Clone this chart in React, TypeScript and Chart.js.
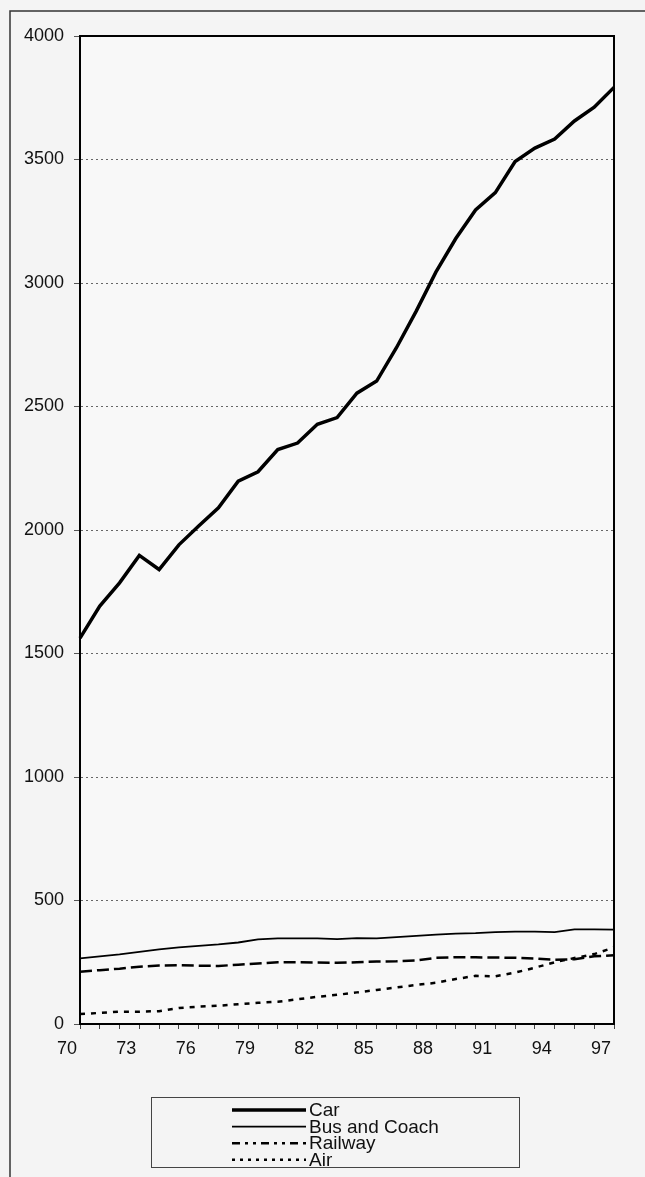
import React, { useEffect, useRef } from "react";
import { Chart, registerables } from "chart.js";

Chart.register(...registerables);

const years = ["70","71","72","73","74","75","76","77","78","79","80","81","82","83","84","85","86","87","88","89","90","91","92","93","94","95","96","97"];
const carValues = [1562,1692,1786,1897,1840,1940,2016,2090,2198,2236,2326,2352,2428,2455,2554,2603,2738,2886,3045,3180,3296,3366,3492,3546,3583,3656,3712,3792];
const busValues = [266,274,282,292,302,310,316,322,330,343,347,347,347,344,348,347,352,357,362,366,368,372,374,374,372,383,383,382];
const railValues = [212,218,224,232,237,238,236,235,240,245,250,250,249,248,250,253,254,257,268,270,270,269,268,265,260,262,274,278];
const airValues = [40,45,50,50,52,65,70,74,80,86,90,100,110,118,128,138,148,158,167,182,195,193,208,228,250,267,283,310];
const seriesNames = ["Car", "Bus and Coach", "Railway", "Air"];
const yTicks = [0, 500, 1000, 1500, 2000, 2500, 3000, 3500, 4000];

const FONT = '"Liberation Sans", Arial, sans-serif';

const legendDash: number[][] = [[], [], [8, 5, 3, 5, 3, 5], [3, 5]];

const framePlugin = {
  id: "frames",
  beforeDraw(chart: any) {
    const ctx = chart.ctx;
    const { width, height } = chart;
    ctx.save();
    ctx.fillStyle = "#f4f4f4";
    ctx.fillRect(0, 0, width, height);
    const a = chart.chartArea;
    ctx.fillStyle = "#f8f8f8";
    ctx.fillRect(a.left, a.top, a.right - a.left, a.bottom - a.top);
    ctx.strokeStyle = "#333";
    ctx.lineWidth = 1.5;
    ctx.beginPath();
    ctx.moveTo(10, height);
    ctx.lineTo(10, 11);
    ctx.lineTo(width, 11);
    ctx.stroke();
    ctx.restore();
  },
  afterDraw(chart: any) {
    const ctx = chart.ctx;
    const a = chart.chartArea;
    ctx.save();
    ctx.strokeStyle = "#000";
    ctx.lineWidth = 2;
    ctx.strokeRect(a.left, a.top, a.right - a.left, a.bottom - a.top);

    // legend box
    ctx.lineWidth = 1;
    ctx.strokeStyle = "#444";
    ctx.strokeRect(151.5, 1097.5, 368, 70);
    const ds = chart.data.datasets;
    ctx.font = "19px " + FONT;
    ctx.textBaseline = "middle";
    ctx.textAlign = "left";
    ctx.fillStyle = "#111";
    ds.forEach((d: any, i: number) => {
      const y = 1110 + i * 16.6;
      ctx.beginPath();
      ctx.setLineDash(legendDash[i]);
      ctx.lineWidth = d.borderWidth;
      ctx.strokeStyle = d.borderColor;
      ctx.moveTo(232, y);
      ctx.lineTo(306, y);
      ctx.stroke();
      ctx.setLineDash([]);
      ctx.fillText(d.label, 309, y + 1);
    });
    ctx.restore();
  },
};

export default function App() {
  const ref = useRef<HTMLCanvasElement | null>(null);
  useEffect(() => {
    document.body.style.margin = "0";
    const canvas = ref.current!;
    const chart = new Chart(canvas, {
      type: "line",
      data: {
        labels: years,
        datasets: [
          { label: seriesNames[0], data: carValues, borderColor: "#000", borderWidth: 3.5, pointRadius: 0, fill: false },
          { label: seriesNames[1], data: busValues, borderColor: "#000", borderWidth: 1.8, pointRadius: 0, fill: false },
          { label: seriesNames[2], data: railValues, borderColor: "#000", borderWidth: 2.5, borderDash: [12, 5], pointRadius: 0, fill: false },
          { label: seriesNames[3], data: airValues, borderColor: "#000", borderWidth: 2.5, borderDash: [5, 6], pointRadius: 0, fill: false },
        ],
      },
      options: {
        responsive: false,
        animation: false,
        devicePixelRatio: 1,
        layout: { padding: { top: 36, left: 0, right: 31, bottom: 113 } },
        plugins: { legend: { display: false }, tooltip: { enabled: false } },
        scales: {
          x: {
            type: "category",
            offset: false,
            afterFit: (s: any) => { s.height = 40; },
            ticks: {
              autoSkip: false,
              maxRotation: 0,
              minRotation: 0,
              labelOffset: -13,
              padding: 9,
              color: "#111",
              font: { family: FONT, size: 18 },
              callback: (_v: any, i: number) => (i % 3 === 0 ? years[i] : ""),
            },
            grid: { display: true, drawOnChartArea: false, drawTicks: true, tickLength: 5, color: "#444", tickColor: "#444" },
            border: { display: true, color: "#000", width: 2 },
          },
          y: {
            min: yTicks[0],
            max: yTicks[yTicks.length - 1],
            afterFit: (s: any) => { s.width = 80; },
            afterBuildTicks: (s: any) => { s.ticks = yTicks.map((v) => ({ value: v })); },
            ticks: {
              padding: 10,
              color: "#111",
              font: { family: FONT, size: 18 },
              callback: (v: any) => String(v),
            },
            grid: { color: "#666", lineWidth: 1, tickLength: 6, tickColor: "#555" },
            border: { display: true, color: "#000", width: 2, dash: [2, 3] },
          },
        },
      },
      plugins: [framePlugin],
    });
    return () => chart.destroy();
  }, []);
  return (
    <div style={{ width: 645, height: 1177 }}>
      <canvas ref={ref} width={645} height={1177} style={{ display: "block", width: 645, height: 1177 }} />
    </div>
  );
}
